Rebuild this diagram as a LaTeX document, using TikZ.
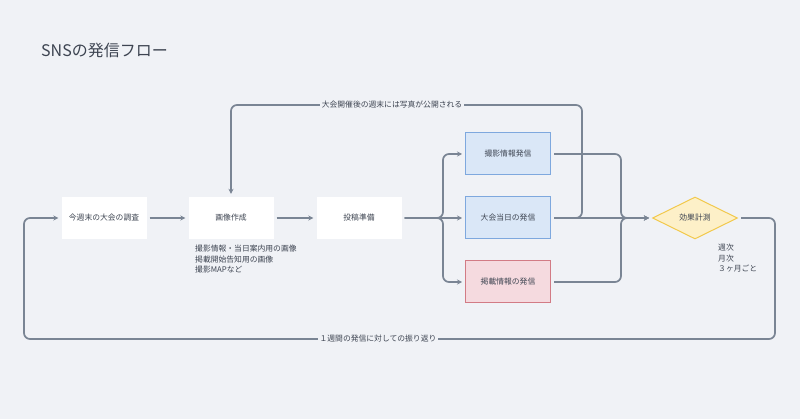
\documentclass[tikz,border=0pt]{standalone}
\usepackage{fontspec}
\setmainfont{Noto Sans CJK JP}
\usetikzlibrary{shapes.geometric,arrows.meta}
\definecolor{bgc}{RGB}{240,242,246}
\definecolor{linec}{RGB}{122,133,148}
\definecolor{txtc}{RGB}{61,68,81}
\definecolor{bluef}{RGB}{218,231,247}
\definecolor{blued}{RGB}{126,168,222}
\definecolor{redf}{RGB}{245,218,223}
\definecolor{redd}{RGB}{210,123,133}
\definecolor{yelf}{RGB}{253,240,200}
\definecolor{yeld}{RGB}{242,201,76}
\tikzset{
  box/.style={rectangle, fill=white, minimum width=85pt, minimum height=42pt, inner sep=0pt, text=txtc, font=\fontsize{7.8}{9}\selectfont},
  bluebox/.style={box, fill=bluef, draw=blued, line width=1pt},
  redbox/.style={box, fill=redf, draw=redd, line width=1pt},
  dia/.style={diamond, fill=yelf, draw=yeld, line width=1pt, minimum width=85pt, minimum height=42pt, inner sep=0pt, text=txtc, font=\fontsize{7.8}{9}\selectfont},
  conn/.style={draw=linec, line width=1.7pt, rounded corners=6pt, -{Stealth[length=5pt,width=5pt]}, shorten >=3pt, shorten <=3pt},
  note/.style={text=txtc, font=\fontsize{7.8}{10.5}\selectfont, align=left, inner sep=0pt},
  elabel/.style={fill=bgc, text=txtc, font=\fontsize{7.8}{9}\selectfont, inner sep=1.5pt}
}
\begin{document}
\begin{tikzpicture}[x=1pt,y=-1pt]
\fill[bgc] (0,0) rectangle (800,419);
\useasboundingbox (0,0) rectangle (800,419);
\node[anchor=west, text=txtc, font=\fontsize{16}{18}\selectfont, inner sep=0pt] (title) at (41,50) {SNSの発信フロー};

\node[box] (b1) at (104,218) {今週末の大会の調査};
\node[box] (b2) at (231,218) {画像作成};
\node[box] (b3) at (359,218) {投稿準備};
\node[bluebox] (s1) at (508,154) {撮影情報発信};
\node[bluebox] (s2) at (508,218) {大会当日の発信};
\node[redbox] (s3) at (508,282) {掲載情報の発信};
\node[dia] (d) at (695,218) {効果計測};

\coordinate (sp) at (443,218);
\coordinate (mp) at (621,218);
\coordinate (tr) at (582,105);
\coordinate (br) at (775,339);
\coordinate (bl) at (24,218);

\draw[conn] (b1.east) -- (b2.west);
\draw[conn] (b2.east) -- (b3.west);
\draw[conn] (b3.east) -- (s2.west);
\draw[conn] (b3.east) -- (sp) |- (s1.west);
\draw[conn] (b3.east) -- (sp) |- (s3.west);
\draw[conn] (s2.east) -- (d.west);
\draw[conn] (s1.east) -| (mp) -- (d.west);
\draw[conn] (s3.east) -| (mp) -- (d.west);
\draw[conn] (s2.east) -| (tr) -| (b2.north);
\draw[conn] (d.east) -| (br) -| (bl) -- (b1.west);

\node[elabel] (l1) at (392,105) {大会開催後の週末には写真が公開される};
\node[elabel] (l2) at (378,339) {１週間の発信に対しての振り返り};

\node[note, anchor=north west] (n1) at (195,245) {撮影情報・当日案内用の画像\\掲載開始告知用の画像\\撮影MAPなど};
\node[note, anchor=north west] (n2) at (718,244) {週次\\月次\\３ヶ月ごと};
\end{tikzpicture}
\end{document}
